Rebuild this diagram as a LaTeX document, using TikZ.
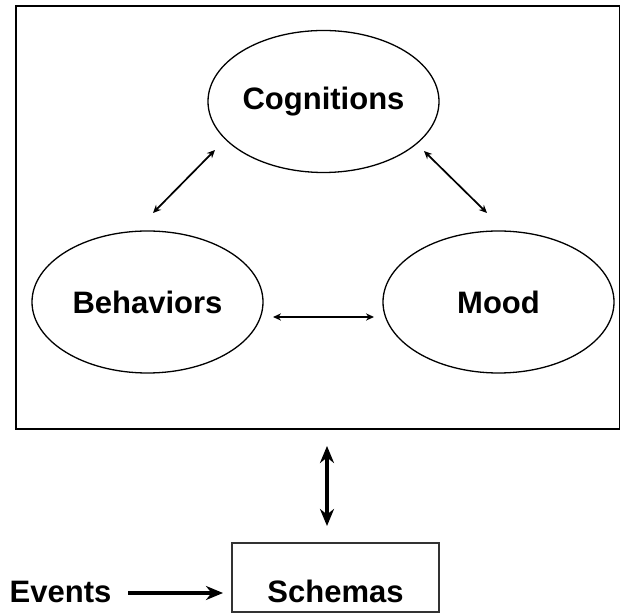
\documentclass[tikz,border=0pt]{standalone}
\usepackage{fontspec}
\setmainfont{Liberation Sans}
\usetikzlibrary{shapes.geometric,arrows.meta,positioning}
\tikzset{
    >={Stealth[length=4pt,width=3.6pt]},
    oval/.style={
        ellipse,
        draw=black, line width=0.65pt,
        minimum width=115.5pt,
        minimum height=71pt,
        inner sep=0pt,
        font=\fontsize{15.5}{18}\selectfont\bfseries
    },
    schemabox/.style={
        rectangle,
        draw=black!80, line width=0.6pt,
        minimum width=103.5pt,
        text height=30pt, text depth=4.5pt,
        inner sep=0pt,
        font=\fontsize{15.5}{18}\selectfont\bfseries
    },
    label/.style={inner sep=0pt, font=\fontsize{15.5}{18}\selectfont\bfseries},
    frame/.style={draw=black, line width=0.9pt},
    link/.style={<->, line width=0.85pt},
    biglink/.style={line width=1.7pt, >={Stealth[length=8.5pt,width=7pt]}}
}

\begin{document}
\begin{tikzpicture}[x=0.5pt, y=-0.5pt]
    \useasboundingbox (0,0) rectangle (621,613);
    \clip (0,0) rectangle (621,613);

    % the three parts of the cycle
    \draw[frame] (16,6) rectangle (619.5,429);
    \node[oval] (cog) at (323.5,101.5) {Cognitions};
    \node[oval] (beh) at (147.5,302) {Behaviors};
    \node[oval] (mood) at (498.5,302) {Mood};

    % below the frame
    \node[schemabox] (schemas) at (335.5,577.5) {Schemas};
    \node[label, anchor=base] (events) at (60.5,603) {Events};

    % arrow ends
    \coordinate (cb1) at (215,150);
    \coordinate (cb2) at (153,213);
    \coordinate (cm1) at (424,151);
    \coordinate (cm2) at (487,213);
    \coordinate (bm1) at (273,317);
    \coordinate (bm2) at (374,317);
    \coordinate (fs1) at (327,446);
    \coordinate (fs2) at (327,526);
    \coordinate (es1) at (128,593);
    \coordinate (es2) at (223,593);

    \draw[link] (cb1) -- (cb2);
    \draw[link] (cm1) -- (cm2);
    \draw[link] (bm1) -- (bm2);
    \draw[biglink, <->] (fs1) -- (fs2);
    \draw[biglink, ->] (es1) -- (es2);
\end{tikzpicture}
\end{document}
